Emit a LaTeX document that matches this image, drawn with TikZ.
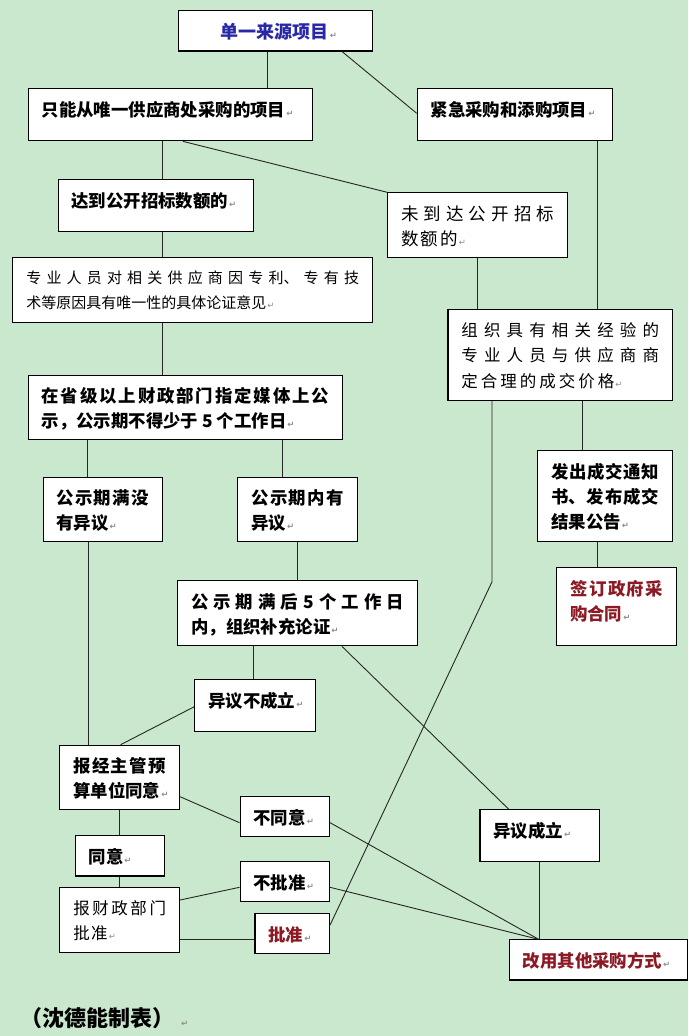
\documentclass[tikz,border=0pt]{standalone}
\usepackage{fontspec}
\setmainfont{Noto Sans CJK SC}
\newfontfamily\retfont{DejaVu Sans}
\usepackage{tikz}
\usetikzlibrary{calc}

\definecolor{bggreen}{RGB}{202,232,205}
\definecolor{titleblue}{RGB}{40,40,165}
\definecolor{darkred}{RGB}{140,25,35}

\XeTeXlinebreaklocale "zh"
\XeTeXlinebreakskip=0pt plus 6pt

% paragraph mark and fixed-size cell text
\newcommand{\retmark}{\kern1pt\rlap{\retfont\fontsize{8.5}{8.5}\selectfont\color{black!45}↵}}
\newcommand{\cb}[3]{\parbox[t][\dimexpr#2pt-25pt\relax][t]{\dimexpr#1pt-27pt\relax}{#3\retmark}}
\newcommand{\spaced}[1]{\XeTeXlinebreakskip=#1pt plus 6pt\relax}

\begin{document}
\begin{tikzpicture}[x=1pt,y=-1pt,
    cell/.style={draw=black,line width=1.1pt,fill=white,anchor=north west,
      inner xsep=13.5pt,inner ysep=12.5pt},
    hei/.style={font=\fontsize{17.4}{25}\selectfont\bfseries},
    song/.style={font=\fontsize{#1}{25.5}\selectfont},
    link/.style={line width=0.9pt,black!85}]
  \fill[bggreen] (0,0) rectangle (688,1036);
  \useasboundingbox (0,0) rectangle (688,1036);

  \node[cell,hei,font=\fontsize{18}{25}\selectfont\bfseries,text=titleblue] (src) at (177.6,10)
    {\cb{194.3}{39.3}{\centering 单一来源项目}};
  \node[cell,hei] (only) at (27.6,88.3) {\cb{284.7}{52}{只能从唯一供应商处采购的项目}};
  \node[cell,hei] (urgent) at (416.7,88.3) {\cb{195.6}{52}{紧急采购和添购项目}};
  \node[cell,hei] (reach) at (57.5,179.3) {\cb{195.1}{52}{达到公开招标数额的}};
  \node[cell,song=17.5] (notreach) at (387.3,192.3)
    {\cb{179.7}{65}{\spaced{2}未到达公开招标\linebreak 数额的}};
  \node[cell,song=15] (demo) at (12.3,257.3)
    {\cb{359.7}{65}{专业人员对相关供应商因专利、专有技\linebreak 术等原因具有唯一性的具体论证意见}};
  \node[cell,song=16.5] (nego) at (447.4,309.3)
    {\cb{224.6}{90.7}{\spaced{3}组织具有相关经验的\linebreak 专业人员与供应商商\linebreak 定合理的成交价格}};
  \node[cell,hei] (pub) at (27.6,374.7)
    {\cb{314.4}{64.6}{在省级以上财政部门指定媒体上公\linebreak 示，公示期不得少于 5 个工作日}};
  \node[cell,hei] (noobj) at (42.5,476.7) {\cb{119.3}{64.3}{公示期满没\linebreak 有异议}};
  \node[cell,hei] (obj) at (237.3,476.7) {\cb{119.7}{64.3}{公示期内有\linebreak 异议}};
  \node[cell,hei] (notice) at (537.3,450)
    {\cb{134.7}{91}{发出成交通知\linebreak 书、发布成交\linebreak 结果公告}};
  \node[cell,hei,text=darkred] (sign) at (556,567.3) {\cb{120.3}{78}{签订政府采\linebreak 购合同}};
  \node[cell,hei] (extra) at (177.2,580.3)
    {\cb{239.5}{65}{公示期满后 5 个工作日\linebreak 内，组织补充论证}};
  \node[cell,hei] (objno) at (194.3,679.3) {\cb{120.2}{52}{异议不成立}};
  \node[cell,hei] (dept) at (59.2,744.7) {\cb{119.8}{64.6}{报经主管预\linebreak 算单位同意}};
  \node[cell,hei] (disagree) at (239.5,796) {\cb{89.5}{39}{不同意}};
  \node[cell,hei] (agree) at (74.6,835.3) {\cb{89.4}{39}{同意}};
  \node[cell,hei] (refuse) at (239.5,861.3) {\cb{89.5}{39}{不批准}};
  \node[cell,song=16.5] (fin) at (59.2,887.3) {\cb{119.8}{64.7}{\spaced{1.5}报财政部门\linebreak 批准}};
  \node[cell,hei,text=darkred] (approve) at (254.4,913.3) {\cb{74.6}{38.7}{批准}};
  \node[cell,hei] (objyes) at (479.4,809.3) {\cb{119.3}{52}{异议成立}};
  \node[cell,hei,text=darkred] (other) at (508.8,939.3) {\cb{178}{39}{改用其他采购方式}};

  \node[font=\fontsize{22}{26}\selectfont\bfseries,anchor=base west,inner sep=0] (author)
    at (20,1026.5) {（沈德能制表）\kern6pt\retmark};

  % straight drops
  \foreach \a/\b/\d in {src/only/89.9,only/reach/134.7,reach/demo/104.8,demo/pub/150,
      urgent/nego/180.7,notreach/nego/89.9,nego/notice/135.1,notice/sign/60.1,
      pub/noobj/60.1,pub/obj/254.4,noobj/dept/46,obj/extra/60.1,extra/objno/76.1,
      dept/agree/60.1,agree/fin/44.7,objyes/other/60.1}
    \draw[link] ([xshift=\d]\a.south west) coordinate (t) -- (t |- \b.north);

  % slanted links
  \draw[link] ([xshift=164.4]src.south west) -- ([yshift=-25]urgent.north west);
  \draw[link] ([xshift=155.4]only.south west) -- (notreach.north west);
  \draw[link] ([xshift=44.6]nego.south west) -- ++(0,180.7) -- ([yshift=-11.7]approve.north east);
  \draw[link] ([xshift=164.8]extra.south west) -- ([xshift=29.4]objyes.north west);
  \draw[link] ([yshift=-27.4]objno.north west) -- ([xshift=61.4]dept.north west);
  \draw[link] ([yshift=-52]dept.north east) -- ([yshift=-26.7]disagree.north west);
  \draw[link] ([yshift=-26.7]disagree.north east) -- ([xshift=29.8]other.north west);
  \draw[link] ([yshift=-12.7]fin.north east) -- ([yshift=-26]refuse.north west);
  \draw[link] ([yshift=-26]refuse.north east) -- ([xshift=29.8]other.north west);
  \draw[link] ([yshift=-52]fin.north east) -- ([yshift=-26]approve.north west);
\end{tikzpicture}
\end{document}
